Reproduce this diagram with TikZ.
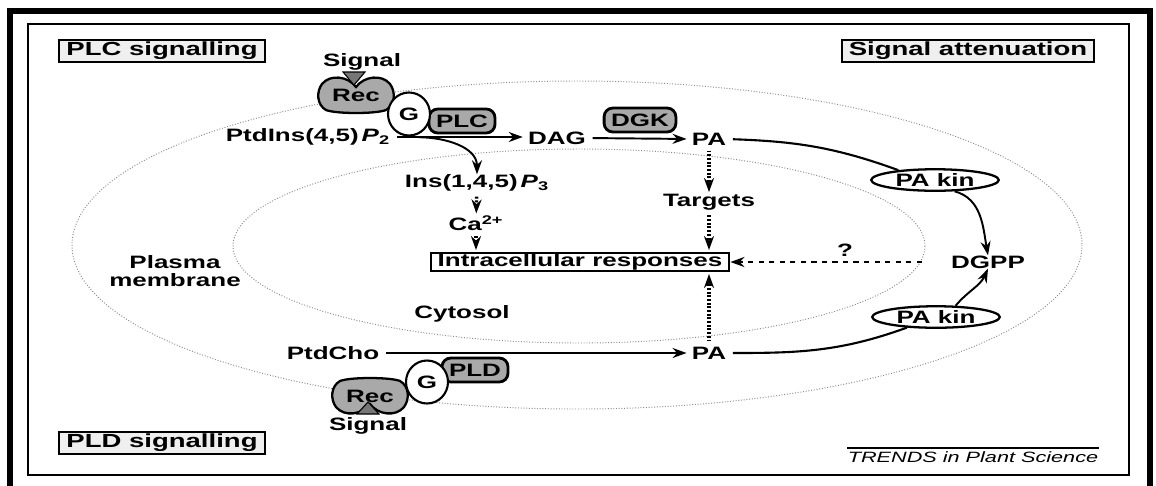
\documentclass[tikz,border=0pt]{standalone}
\usepackage{fontspec}
\newfontfamily\figfont{Liberation Sans}[FakeStretch=1.45]
\usepackage{tikz}
\usetikzlibrary{arrows.meta,calc,shapes.geometric,positioning}
\definecolor{membranegray}{HTML}{8C8C8C}
\definecolor{enzymegray}{HTML}{A9A9A9}
\definecolor{tagfill}{HTML}{EFEFEF}
\newcommand{\figlabel}{\figfont\bfseries\fontsize{10.2}{10}\selectfont}
\newcommand{\figtag}{\figfont\bfseries\fontsize{10.8}{11}\selectfont}
\tikzset{
  recblob/.pic={
    \draw[line width=1.3pt,fill=enzymegray] (0,-8) .. controls (-8,-19) and (-26,-21) .. (-34,-11)
      .. controls (-40,-3) and (-39,10) .. (-30,15) .. controls (-20,19) and (20,19) .. (30,15)
      .. controls (39,10) and (40,-3) .. (34,-11) .. controls (26,-21) and (8,-19) .. (0,-8) -- cycle;
  }
}

\begin{document}
\begin{tikzpicture}[x=0.2mm,y=-0.2mm,
  every node/.style={font=\figlabel,inner sep=0pt},
  tag/.style={draw,line width=1.1pt,fill=tagfill,inner xsep=4pt,inner ysep=1pt,font=\figtag},
  enzyme/.style={draw,line width=1.6pt,fill=enzymegray,rounded corners=5pt,minimum height=4.8mm,inner xsep=4pt},
  gprot/.style={draw,ellipse,line width=1.2pt,fill=white,minimum width=8.4mm,minimum height=8.6mm},
  kinase/.style={draw,ellipse,line width=1.3pt,fill=white,inner sep=0pt,minimum width=25.5mm,minimum height=4.3mm},
  flow/.style={-{Stealth[length=2.8mm,width=2mm]},line width=1.1pt},
  gapflow/.style={flow,shorten <=1.3mm,shorten >=1mm},
  signalflow/.style={flow,densely dotted,line width=1.9pt,shorten <=1mm,shorten >=0.3mm},
  membrane/.style={membranegray,densely dotted,line width=0.55pt},
  signaltip/.style={draw=black,fill=enzymegray!70!black,line width=0.6pt}]
  \useasboundingbox (0,0) rectangle (1156,485);
  \draw[line width=1.2mm] (10,490) -- (10,11) -- (1150,11) -- (1150,490);
  \draw[line width=0.55mm] (28,24) rectangle (1129,475);
  \draw[membrane] (577,245) ellipse [x radius=505, y radius=164];
  \draw[membrane] (579,246) ellipse [x radius=346, y radius=97];

  \node[tag] (plctag) at (162,51) {PLC signalling};
  \node[tag] (attag) at (968,51) {Signal attenuation};
  \node[tag] (pldtag) at (162,443) {PLD signalling};

  \node (sig1) at (362,62) {Signal};
  \coordinate (recpos1) at (356,95);
  \pic at (recpos1) {recblob};
  \draw[signaltip] (343,72) -- (365,72) -- (354,85) -- cycle;
  \node (rec1) at (recpos1) {Rec};
  \node[enzyme] (plc) at (462,121) {PLC};
  \node[gprot] (g1) at (409,114) {G};
  \node (pip2) at (308,137) {PtdIns(4,5)\,\textit{P}\textsubscript{2}};
  \node (dag) at (557,138) {DAG};
  \node[enzyme] (dgk) at (640,120) {DGK};
  \node (pa1) at (709,139) {PA};
  \node (ip3) at (477,183) {Ins(1,4,5)\,\textit{P}\textsubscript{3}};
  \node (ca) at (476,223) {Ca\textsuperscript{2+}};
  \node (targets) at (709,202) {Targets};
  \node[draw,line width=1.2pt,inner xsep=4pt,inner ysep=0.6pt] (resp) at (580,262) {Intracellular responses};
  \node (q) at (845,250) {?};
  \node (dgpp) at (988,262) {DGPP};
  \node[kinase] (kin1) at (935,180) {PA kin};
  \node[kinase] (kin2) at (936,317) {PA kin};
  \node[align=center] (pm) at (175,271) {Plasma\\membrane};
  \node (cyto) at (462,314) {Cytosol};
  \node (ptdcho) at (333,353) {PtdCho};
  \node (pa2) at (709,353) {PA};

  \coordinate (recpos2) at (370,396);
  \pic[yscale=-1] at (recpos2) {recblob};
  \draw[signaltip] (357,414) -- (379,414) -- (368,402) -- cycle;
  \node (rec2) at (recpos2) {Rec};
  \node[enzyme] (pld) at (475,370) {PLD};
  \node[gprot] (g2) at (427,382) {G};
  \node (sig2) at (368,426) {Signal};

  \node[font=\figfont\itshape\fontsize{8.5}{9}\selectfont] (journal) at (973,457) {TRENDS in Plant Science};
  \draw[line width=1pt] ($(journal.north west)+(0,-3)$) -- ($(journal.north east)+(0,-3)$);

  \draw[gapflow] (pip2.east) -- (pip2.east -| dag.west);
  \draw[gapflow] (dag.east) -- (pa1.west);
  \draw[gapflow] (ptdcho.east) -- (pa2.west);
  \coordinate (split) at ($(pip2.east)!0.2!(dag.west)$);
  \draw[flow] (split) to[out=0,in=90] (ip3.north);
  \draw[signalflow] (ip3) -- (ca);
  \draw[signalflow] (ca) -- (ca |- resp.north);
  \draw[signalflow] (pa1) -- (targets);
  \draw[signalflow] (targets) -- (targets |- resp.north);
  \draw[signalflow] (pa2) -- (pa2 |- resp.south);
  \coordinate (cytoedge) at (922,262);
  \draw[flow,dashed,line width=1.3pt] (cytoedge) -- (resp.east);

  \draw[line width=1.2pt,shorten <=1.3mm] (pa1.east) to[out=-2,in=160] (kin1.165);
  \draw[flow] (kin1.-30) to[out=-15,in=100] (dgpp.north);
  \draw[line width=1.2pt,shorten <=1.3mm] (pa2.east) to[out=0,in=200] (kin2.200);
  \draw[flow] (kin2.30) to[out=50,in=-115] (dgpp.south);
\end{tikzpicture}
\end{document}
